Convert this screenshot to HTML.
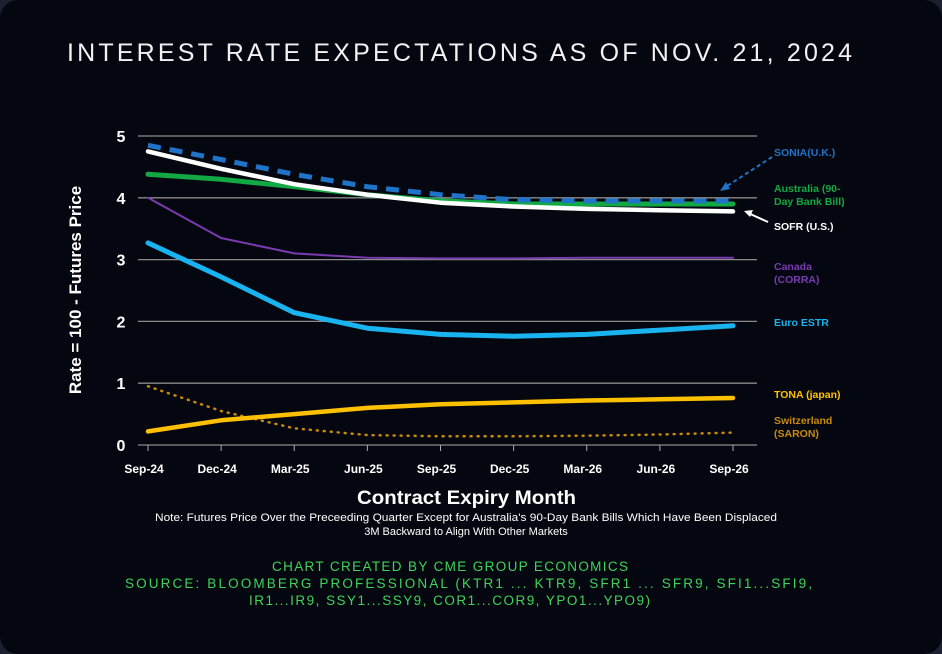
<!DOCTYPE html>
<html><head><meta charset="utf-8"><style>
html,body{margin:0;padding:0;background:#1b2130;}
#card{position:absolute;left:0;top:0;width:942px;height:654px;background:#04070f;border-radius:18px;overflow:hidden;font-family:"Liberation Sans",sans-serif;}
svg text{font-family:"Liberation Sans",sans-serif;}
</style></head><body>
<div id="card">
<svg id="chart" width="942" height="654"></svg>
</div>
<script>
const categories=["Sep-24","Dec-24","Mar-25","Jun-25","Sep-25","Dec-25","Mar-26","Jun-26","Sep-26"];
const yTicks=[0,1,2,3,4,5];
const sonia=[4.85,4.62,4.38,4.18,4.05,3.97,3.95,3.95,3.95];
const australia=[4.38,4.30,4.18,4.05,3.95,3.90,3.90,3.90,3.90];
const sofr=[4.75,4.47,4.22,4.05,3.92,3.86,3.82,3.80,3.78];
const canada=[4.0,3.35,3.1,3.03,3.02,3.02,3.03,3.03,3.03];
const estr=[3.27,2.72,2.14,1.89,1.79,1.76,1.79,1.86,1.93];
const tona=[0.22,0.40,0.50,0.60,0.66,0.69,0.72,0.74,0.76];
const saron=[0.95,0.55,0.27,0.16,0.14,0.14,0.15,0.17,0.20];

const svg=document.getElementById('chart');
const NS='http://www.w3.org/2000/svg';
const x0=148,x1=733,yTop=136,yBot=445,yMax=5;
const xs=i=>x0+(x1-x0)*i/(categories.length-1);
const ys=v=>yBot-(yBot-yTop)*v/yMax;
function el(t,a,txt){const e=document.createElementNS(NS,t);for(const k in a)e.setAttribute(k,a[k]);if(txt!==undefined)e.textContent=txt;svg.appendChild(e);return e;}

let t=el('text',{x:67,y:61,fill:'#f2f2f2','font-size':25,textLength:785,lengthAdjust:'spacing'},'INTEREST RATE EXPECTATIONS AS OF NOV. 21, 2024');



yTicks.forEach(v=>{
  const g=el('line',{x1:138,x2:757,y1:ys(v),y2:ys(v),stroke:'#8a8a8a','stroke-width':1.3});
  
  
  const l=el('text',{x:121,y:ys(v)+6,fill:'#fff','font-size':16,'font-weight':'bold','text-anchor':'middle'},String(v));
  
  
});
categories.forEach((c,i)=>{
  const tk=el('line',{x1:xs(i),x2:xs(i),y1:yBot,y2:yBot+6,stroke:'#aaa','stroke-width':1});
  
  
  const l=el('text',{x:xs(i)-4,y:473,fill:'#fff','font-size':12,'font-weight':'bold','text-anchor':'middle'},c);
  
  
});
t=el('text',{x:0,y:0,fill:'#fff','font-size':17,'font-weight':'bold','text-anchor':'middle',transform:'translate(81,290) rotate(-90)'},'Rate = 100 - Futures Price');


t=el('text',{x:357,y:504,fill:'#fff','font-size':19,'font-weight':'bold',textLength:219,lengthAdjust:'spacingAndGlyphs'},'Contract Expiry Month');


t=el('text',{x:155,y:521,fill:'#fff','font-size':11,textLength:622,lengthAdjust:'spacingAndGlyphs'},"Note: Futures Price Over the Preceeding Quarter Except for Australia's 90-Day Bank Bills Which Have Been Displaced");


t=el('text',{x:466,y:535,fill:'#fff','font-size':11,'text-anchor':'middle'},'3M Backward to Align With Other Markets');


[['CHART CREATED BY CME GROUP ECONOMICS',571,272,356],['SOURCE: BLOOMBERG PROFESSIONAL (KTR1 ... KTR9, SFR1 ... SFR9, SFI1...SFI9,',588,125,687],['IR1...IR9, SSY1...SSY9, COR1...COR9, YPO1...YPO9)',605,249,401]].forEach((s,i)=>{
  const e=el('text',{x:s[2],y:s[1],fill:'#3fd35a','font-size':13.5,textLength:s[3],lengthAdjust:'spacing'},s[0]);
  
  
});

function series(data,name,color,w,dash,cap){
  const d=data.map((v,i)=>(i?'L':'M')+xs(i).toFixed(1)+','+ys(v).toFixed(1)).join(' ');
  const p=el('path',{d:d,fill:'none',stroke:color,'stroke-width':w,'stroke-linecap':cap||'round','stroke-linejoin':'round'});
  if(dash)p.setAttribute('stroke-dasharray',dash);
  
  
}
series(saron,'saron','#c98a0c',2.5,'1 6');
series(tona,'tona','#ffc000',4.5);
series(estr,'estr','#19b4f0',5);
series(canada,'canada','#7a3ab0',2);
series(australia,'australia','#12a844',5);
series(sofr,'sofr','#ffffff',4.5);
series(sonia,'sonia','#1f73c8',5,'13 9','butt');

function lab(lines,y,color,name){
  lines.forEach((s,i)=>{
    const e=el('text',{x:774,y:y+i*13,fill:color,'font-size':10.5,'font-weight':'bold'},s);
    
    
  });
}
lab(['SONIA(U.K.)'],156,'#1f73c8','sonia');
lab(['Australia (90-','Day Bank Bill)'],192,'#12a844','australia');
lab(['SOFR (U.S.)'],230,'#ffffff','sofr');
lab(['Canada','(CORRA)'],270,'#7a3ab0','canada');
lab(['Euro ESTR'],326,'#19b4f0','estr');
lab(['TONA (japan)'],398,'#ffc000','tona');
lab(['Switzerland','(SARON)'],424,'#c98a0c','saron');

let a=el('path',{d:'M772,157 L724,188',stroke:'#1f73c8','stroke-width':2,'stroke-dasharray':'4 3',fill:'none'});


a=el('path',{d:'M720,191 L726,182 L730,189 Z',fill:'#1f73c8'});


a=el('path',{d:'M768,222 L748,213',stroke:'#fff','stroke-width':2,fill:'none'});


a=el('path',{d:'M744,211 L753,210 L750,217 Z',fill:'#fff'});


</script>
</body></html>
